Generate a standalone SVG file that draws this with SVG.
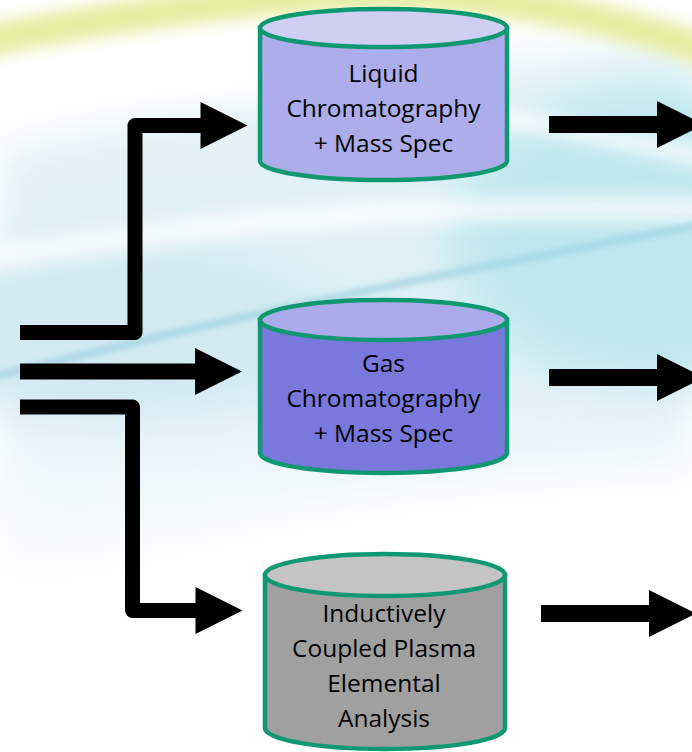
<svg xmlns="http://www.w3.org/2000/svg" width="692" height="752" viewBox="0 0 692 752">
<defs>
  <style>
    .cyl-stroke{stroke:#109970;stroke-width:4.5}
    .lbl{font-family:"Open Sans","Noto Sans","Liberation Sans",sans-serif;font-size:24.5px;fill:#000;text-anchor:middle}
    .conn{fill:none;stroke:#000;stroke-linejoin:round;stroke-linecap:butt}
  </style>
  <filter id="blur8" x="-20%" y="-50%" width="140%" height="200%"><feGaussianBlur stdDeviation="8"/></filter>
  <filter id="blur20" x="-50%" y="-50%" width="200%" height="200%"><feGaussianBlur stdDeviation="22"/></filter>
  <filter id="blur3" x="-10%" y="-50%" width="120%" height="200%"><feGaussianBlur stdDeviation="3"/></filter>
  <linearGradient id="bgBlue" x1="0" y1="0" x2="0" y2="1">
    <stop offset="0" stop-color="#E4F3F8"/>
    <stop offset="0.55" stop-color="#DDEFF6"/>
    <stop offset="1" stop-color="#FFFFFF"/>
  </linearGradient>
  <marker id="head" markerUnits="userSpaceOnUse" markerWidth="50" markerHeight="50" refX="0.5" refY="23.5" orient="auto" overflow="visible">
    <path d="M0,0 L47,23.5 L0,47 Z" fill="#000"/>
  </marker>
</defs>

<g id="background">
  <rect width="692" height="752" fill="#FFFFFF"/>
  <path d="M0,150 C200,110 450,60 692,40 L692,470 C450,470 200,520 0,600 Z" fill="url(#bgBlue)" filter="url(#blur20)"/>
  <ellipse cx="660" cy="235" rx="210" ry="150" fill="#BFE7EF" filter="url(#blur20)"/>
  <ellipse cx="120" cy="330" rx="220" ry="90" fill="#D3EAF3" filter="url(#blur20)"/>
  <path d="M-20,260 C150,230 400,200 720,210" stroke="#FFFFFF" stroke-width="26" fill="none" opacity="0.7" filter="url(#blur8)"/>
  <path d="M-20,80 C150,70 400,90 720,160" stroke="#FFFFFF" stroke-width="22" fill="none" opacity="0.7" filter="url(#blur8)"/>
  <path d="M-10,378 C120,345 300,300 700,225" stroke="#9FD4E0" stroke-width="6" fill="none" filter="url(#blur3)"/>
  <path d="M-20,42 C120,14 300,-8 400,-6 C520,-2 620,20 720,55" stroke="#E6EDA0" stroke-width="32" fill="none" filter="url(#blur8)"/>
</g>

<g id="connectors">
  <path class="conn" d="M20,332.5 H135 V125.5 H201" stroke-width="15" marker-end="url(#head)"/>
  <path class="conn" d="M20,371.5 H195.5" stroke-width="16" marker-end="url(#head)"/>
  <path class="conn" d="M20,407 H132.5 V610.5 H196" stroke-width="15" marker-end="url(#head)"/>
  <path class="conn" d="M549,124.5 H657.5" stroke-width="17" marker-end="url(#head)"/>
  <path class="conn" d="M549,377.5 H657.5" stroke-width="17" marker-end="url(#head)"/>
  <path class="conn" d="M541,613.5 H649.5" stroke-width="17" marker-end="url(#head)"/>
</g>

<g id="lc-ms">
  <path class="cyl-stroke" d="M260,28 V161 A123.5,19 0 0 0 507,161 V28 Z" fill="#ADADEB"/>
  <ellipse class="cyl-stroke" cx="383.5" cy="28" rx="123.5" ry="19" fill="#CFCFF3"/>
  <text class="lbl" x="383.5" y="82">Liquid</text>
  <text class="lbl" x="383.5" y="117">Chromatography</text>
  <text class="lbl" x="383.5" y="152">+ Mass Spec</text>
</g>

<g id="gc-ms">
  <path class="cyl-stroke" d="M260,320 V453 A123.5,20 0 0 0 507,453 V320 Z" fill="#7878DD"/>
  <ellipse class="cyl-stroke" cx="383.5" cy="320" rx="123.5" ry="20" fill="#ABABEB"/>
  <text class="lbl" x="383.5" y="372">Gas</text>
  <text class="lbl" x="383.5" y="407">Chromatography</text>
  <text class="lbl" x="383.5" y="442">+ Mass Spec</text>
</g>

<g id="icp">
  <path class="cyl-stroke" d="M265,575 V728 A120,21 0 0 0 505,728 V575 Z" fill="#A0A0A0"/>
  <ellipse class="cyl-stroke" cx="385" cy="575" rx="120" ry="21" fill="#C4C4C4"/>
  <text class="lbl" x="384" y="622">Inductively</text>
  <text class="lbl" x="384" y="657">Coupled Plasma</text>
  <text class="lbl" x="384" y="692">Elemental</text>
  <text class="lbl" x="384" y="727">Analysis</text>
</g>
</svg>
